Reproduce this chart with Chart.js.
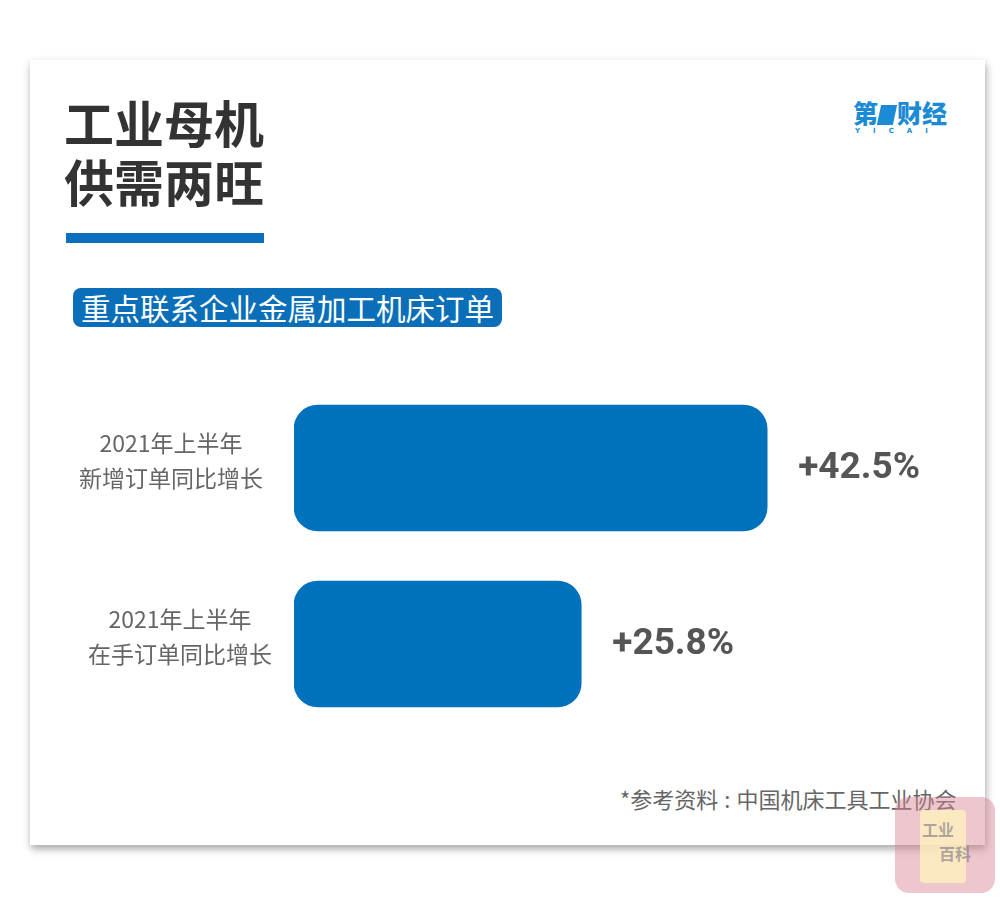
<!DOCTYPE html>
<html>
<head>
<meta charset="utf-8">
<script src="https://cdn.jsdelivr.net/npm/chart.js@4"></script>
<style>
  html, body { margin: 0; padding: 0; background: #fff; }
  #page { position: relative; width: 1000px; height: 900px; overflow: hidden; background: #fff;
    font-family: "Noto Sans CJK SC", "Noto Sans", sans-serif; }
  #card { position: absolute; left: 30px; top: 60px; width: 955px; height: 785px; background: #fff;
    box-shadow: 1px 4px 8px rgba(0,0,0,0.35); }
  .title { position: absolute; left: 64px; font-size: 50px; font-weight: 700; color: #333; line-height: 1; }
  #underline { position: absolute; left: 66px; top: 233px; width: 198px; height: 10px; background: #0a6fbd; }
  #subtitle { position: absolute; left: 73px; top: 288px; width: 429px; height: 39px; background: #0a6fb8;
    border-radius: 8px; color: #fff; font-size: 29.5px; line-height: 38px; padding-left: 8px; box-sizing: border-box; white-space: nowrap; }
  #logo { position: absolute; left: 853px; top: 100px; color: #1b8bd6; font-weight: 900; font-size: 25px; line-height: 1; white-space: nowrap; }
  #logo .one { display: inline-block; width: 16px; height: 20px; background: #1b8bd6; transform: skewX(-12deg); vertical-align: -2px; margin: 0 2px 0 1px; }
  #logo .en { font-family: "DejaVu Sans", sans-serif; font-size: 7px; letter-spacing: 13px; font-weight: 700; margin-top: 3px; padding-left: 2px; }
  #source { position: absolute; left: 620px; top: 782px; font-size: 22px; color: #666; white-space: nowrap; }
  #mark { position: absolute; left: 895px; top: 797px; width: 100px; height: 96px; border-radius: 14px; background: rgba(215,130,145,0.45); }
  #mark .book { position: absolute; left: 25px; top: 13px; width: 46px; height: 73px; background: rgba(255,240,190,0.8); border-radius: 4px; }
  #mark .t { position: absolute; font-size: 16px; font-weight: 700; color: rgba(120,120,130,0.6); }
  canvas { position: absolute; left: 0; top: 0; }
</style>
</head>
<body>
<div id="page">
  <div id="card"></div>
  <div class="title" style="top:96px">工业母机</div>
  <div class="title" style="top:155px">供需两旺</div>
  <div id="underline"></div>
  <div id="subtitle">重点联系企业金属加工机床订单</div>
  <div id="logo">第<span class="one"></span>财经<div class="en">YICAI</div></div>
  <div id="source">*参考资料<span style="padding:0 6px">:</span>中国机床工具工业协会</div>
  <div id="mark"><div class="book"></div><div class="t" style="left:27px;top:20px">工业</div><div class="t" style="left:44px;top:44px">百科</div></div>
  <canvas id="chart" width="1000" height="900"></canvas>
</div>
<script>
// DATA
const categories = [
  ["2021年上半年", "新增订单同比增长"],
  ["2021年上半年", "在手订单同比增长"]
];
const growthValues = [42.5, 25.8];
const valueLabels = ["+42.5%", "+25.8%"];

const labelCenters = [171, 180];

// draws the two-line category labels and the value text next to each bar
const barLabels = {
  id: "barLabels",
  afterDatasetsDraw(chart) {
    const ctx = chart.ctx;
    const meta = chart.getDatasetMeta(0);
    ctx.save();
    meta.data.forEach((bar, i) => {
      ctx.fillStyle = "#666";
      ctx.font = '23px "Noto Sans CJK SC"';
      ctx.textAlign = "center";
      ctx.textBaseline = "middle";
      ctx.fillText(categories[i][0], labelCenters[i], bar.y - 25);
      ctx.fillText(categories[i][1], labelCenters[i], bar.y + 10);

      ctx.fillStyle = "#555";
      ctx.font = 'bold 37px Roboto';
      ctx.textAlign = "left";
      ctx.fillText(valueLabels[i], bar.x + 31, bar.y + 1);
    });
    ctx.restore();
  },
};

new Chart(document.getElementById("chart"), {
  type: "bar",
  data: {
    labels: categories,
    datasets: [
      {
        data: growthValues,
        backgroundColor: "#0071bb",
        barThickness: 126,
        borderRadius: 24,
        borderSkipped: false,
      },
    ],
  },
  options: {
    indexAxis: "y",
    responsive: false,
    animation: false,
    layout: { padding: { left: 294, right: 38, top: 380, bottom: 168 } },
    plugins: { legend: { display: false }, tooltip: { enabled: false } },
    scales: {
      x: { display: false, min: 0, max: 60 },
      y: { display: false },
    },
  },
  plugins: [barLabels],
});
</script>
</body>
</html>
